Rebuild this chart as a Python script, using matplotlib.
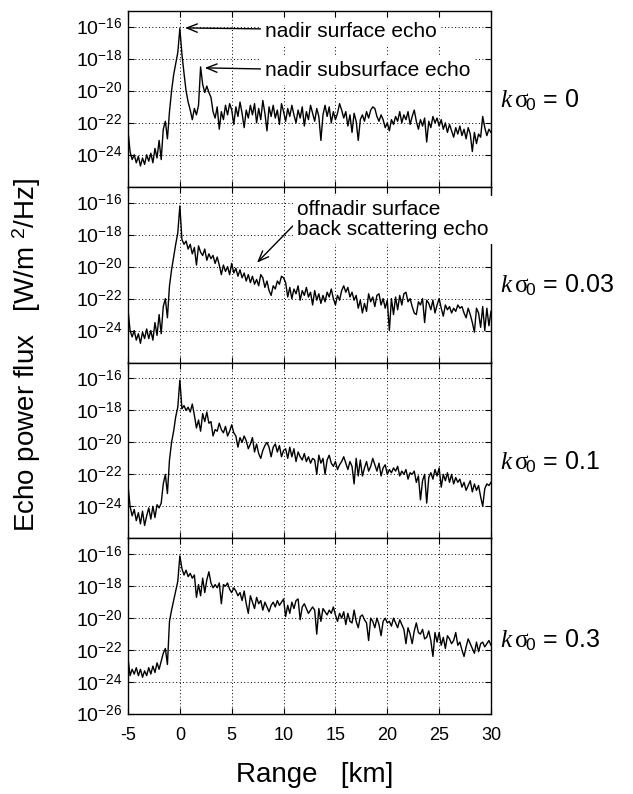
import numpy as np
import matplotlib
matplotlib.use("Agg")
import matplotlib.pyplot as plt
from matplotlib.ticker import NullLocator

plt.rcParams['font.family'] = ['Liberation Sans', 'DejaVu Sans']
plt.rcParams['mathtext.fontset'] = 'custom'
plt.rcParams['mathtext.rm'] = 'Liberation Sans'
plt.rcParams['mathtext.it'] = 'Liberation Serif:italic'
plt.rcParams['mathtext.sf'] = 'Liberation Serif'
plt.rcParams['axes.unicode_minus'] = False

# range axis, 0.2 km sampling from -5 to 30 km
range_km = np.linspace(-5, 30, 176)

# echo power flux as log10 [W/m^2/Hz], one series per surface roughness
logflux_k0 = [
    -22.5, -23.8, -24.3, -24.0, -24.5, -24.1, -24.7, -24.2, -24.6, -24.0,
    -24.4, -23.9, -24.5, -23.6, -24.2, -23.1, -24.3, -22.4, -21.9, -23.0,
    -21.3, -20.0, -19.0, -18.3, -17.6, -16.1, -17.7, -18.9, -20.0, -20.7,
    -21.2, -21.8, -21.1, -21.5, -20.9, -18.5, -19.6, -20.1, -19.7, -20.1,
    -20.4, -21.3, -21.7, -21.0, -22.4, -21.3, -21.8, -20.9, -21.5, -20.8,
    -21.2, -22.1, -21.0, -21.6, -20.7, -21.4, -22.3, -21.2, -21.7, -20.9,
    -21.5, -20.8, -22.0, -21.1, -21.8, -20.6, -21.4, -22.5, -21.0, -21.6,
    -20.9, -21.7, -21.2, -22.1, -20.8, -21.3, -21.9, -21.1, -21.6, -20.9,
    -21.5, -22.0, -21.2, -21.7, -21.0, -22.2, -21.3, -21.8, -20.9, -21.4,
    -21.9, -21.1, -21.6, -23.1, -21.5, -20.9, -21.6, -21.0, -22.0, -21.3,
    -21.8, -21.4, -20.8, -21.2, -21.7, -21.3, -22.2, -21.5, -22.6, -21.4,
    -21.9, -23.1, -21.8, -21.5, -21.9, -21.3, -21.7, -21.2, -21.0, -21.1,
    -21.6, -21.9, -21.5, -21.8, -22.3, -22.0, -22.5, -21.8, -22.1, -21.6,
    -21.9, -21.3, -22.0, -21.5, -21.8, -21.3, -22.1, -21.6, -21.2, -21.9,
    -22.4, -21.8, -22.2, -21.7, -23.2, -21.9, -22.3, -21.6, -22.0, -21.7,
    -22.2, -21.8, -22.4, -22.0, -22.6, -22.1, -22.5, -22.9, -22.3, -22.7,
    -22.2, -22.8, -22.4, -23.0, -22.3, -22.7, -23.8, -22.6, -23.3, -22.7,
    -22.9, -21.6, -22.3, -22.8, -22.4, -22.6,
]
logflux_k003 = [
    -22.7, -24.0, -24.4, -24.0, -24.6, -24.2, -24.8, -24.1, -24.5, -23.9,
    -24.5, -24.0, -24.6, -23.5, -24.3, -23.0, -24.2, -22.5, -22.0, -23.2,
    -21.2, -20.2, -19.4, -18.6, -17.9, -16.2, -18.3, -18.6, -18.4, -18.9,
    -18.6, -19.2, -18.8, -19.9, -18.7, -19.1, -19.3, -18.9, -19.6, -19.2,
    -19.5, -19.3, -19.8, -19.4, -19.9, -20.5, -19.9, -20.3, -20.0, -20.5,
    -19.8, -20.4, -20.1, -20.6, -20.2, -20.7, -20.4, -20.9, -20.5, -21.0,
    -20.6, -21.1, -20.8, -21.2, -20.5, -20.7, -21.3, -20.9, -21.5, -21.8,
    -21.2, -21.4, -20.9, -21.1, -20.6, -20.7, -21.0, -21.9, -21.3, -22.0,
    -21.4, -21.7, -21.2, -22.1, -21.5, -21.8, -21.3, -21.9, -21.6, -22.4,
    -21.5, -22.1, -21.7, -22.3, -21.8, -22.2, -21.6, -21.9, -21.4, -22.0,
    -22.4, -21.8, -22.1, -21.5, -21.2, -21.6, -21.3, -21.9, -21.6, -22.1,
    -21.8, -22.6, -22.1, -22.9, -22.3, -22.8, -21.7, -22.2, -21.9, -22.5,
    -21.8, -21.7, -22.4, -22.0, -22.6, -22.1, -24.0, -22.0, -23.0, -21.9,
    -22.7, -21.8, -22.4, -21.7, -21.6, -22.2, -22.0, -22.5, -22.9, -23.0,
    -22.2, -22.4, -22.0, -23.5, -22.1, -22.3, -22.7, -22.1, -22.9, -22.4,
    -22.0, -22.6, -23.1, -22.4, -22.7, -22.5, -22.9, -22.6, -22.8, -22.4,
    -22.6, -22.5, -22.9, -23.2, -22.6, -23.0, -23.5, -24.1, -22.6, -22.9,
    -23.8, -22.5, -24.0, -22.6, -23.7, -22.8,
]
logflux_k01 = [
    -22.7, -24.0, -24.6, -24.2, -24.9, -24.4, -25.1, -24.3, -25.2, -24.6,
    -24.1, -24.8, -24.0, -24.7, -23.9, -24.1, -23.8, -22.6, -22.0, -23.2,
    -21.1, -20.0, -19.3, -18.4, -17.8, -16.1, -17.9, -17.7, -18.0, -17.8,
    -18.1, -17.6, -18.3, -19.1, -18.6, -19.3, -18.2, -18.7, -18.1, -18.8,
    -18.7, -19.6, -19.2, -19.3, -18.8, -19.2, -19.4, -19.0, -19.6, -19.3,
    -18.9, -19.4, -19.6, -20.3, -19.7, -20.0, -19.6, -19.9, -20.4, -20.1,
    -19.7, -20.6, -20.1, -20.7, -21.0, -20.5, -20.2, -20.0, -20.3, -20.9,
    -20.3, -20.1, -20.6, -20.2, -20.9, -20.5, -20.4, -21.0, -20.3, -20.9,
    -20.4, -21.2, -20.6, -20.9, -21.1, -20.7, -21.2, -20.9, -21.3, -21.0,
    -21.1, -22.0, -20.8, -21.3, -21.0, -22.0, -21.1, -20.8, -21.3, -21.5,
    -21.2, -21.7, -21.4, -21.2, -20.9, -21.3, -21.7, -21.2, -21.5, -22.6,
    -21.0, -22.1, -21.1, -22.1, -21.6, -21.2, -21.8, -21.5, -21.0, -21.4,
    -21.8, -21.3, -22.1, -21.6, -21.4, -22.0, -21.7, -21.9, -21.6, -21.8,
    -21.5, -22.1, -21.8, -22.0, -21.7, -22.3, -21.9, -22.0, -21.8, -22.5,
    -22.1, -23.6, -22.4, -22.0, -23.8, -22.2, -21.9, -22.3, -21.7, -22.1,
    -21.6, -22.8, -22.0, -22.4, -21.9, -22.5, -22.0, -22.6, -22.2, -22.5,
    -22.3, -22.8, -22.5, -23.0, -22.7, -22.4, -23.1, -22.6, -23.0, -22.7,
    -23.4, -24.0, -22.9, -22.6, -22.7, -22.5,
]
logflux_k03 = [
    -22.5, -23.6, -23.2, -23.5, -23.1, -23.6, -23.2, -23.7, -23.3, -23.6,
    -23.1, -23.5, -23.0, -23.4, -22.8, -23.2, -22.7, -22.2, -21.9, -22.9,
    -20.2, -19.5, -18.9, -18.3, -17.7, -16.1, -16.9, -17.3, -17.0, -17.4,
    -17.2, -17.5, -17.3, -18.7, -17.9, -18.6, -17.5, -18.4, -17.6, -17.1,
    -17.8, -18.1, -17.9, -18.1, -17.8, -19.1, -17.9, -18.0, -17.8, -18.2,
    -18.4, -18.1, -18.3, -18.6, -18.4, -18.9, -18.3, -19.1, -19.7, -18.6,
    -19.0, -19.4, -18.7, -19.1, -18.9, -19.5, -19.0, -19.3, -19.6, -19.2,
    -19.0, -19.3, -18.9, -19.2, -19.0, -18.8, -19.9, -19.2, -19.7, -19.0,
    -19.4, -18.9, -18.8, -20.1, -19.3, -19.1, -19.4, -19.7, -19.5, -19.3,
    -19.5, -21.0, -19.4, -20.2, -19.4, -19.6, -19.8, -19.5, -19.7, -19.3,
    -19.8, -20.2, -19.7, -20.0, -19.6, -20.4, -19.7, -20.2, -20.3, -19.5,
    -20.2, -20.6, -19.9, -19.8, -20.1, -20.3, -21.4, -20.0, -20.2, -20.6,
    -20.0, -20.4, -21.1, -20.2, -20.0, -20.3, -20.2, -20.5, -20.0, -20.3,
    -20.6, -20.1, -20.4, -20.7, -21.6, -20.6, -21.0, -21.6, -20.8, -20.3,
    -20.9, -21.0, -20.7, -21.3, -21.2, -20.8, -21.4, -22.4, -20.9, -21.5,
    -20.9, -21.7, -21.2, -21.9, -21.1, -21.3, -21.6, -21.4, -20.9, -21.7,
    -21.5, -22.0, -22.4, -21.8, -21.3, -21.6, -21.9, -22.2, -21.5, -22.1,
    -21.6, -21.5, -21.8, -21.6, -21.4, -21.7,
]

series = [logflux_k0, logflux_k003, logflux_k01, logflux_k03]
roughness_labels = ['0', '0.03', '0.1', '0.3']
ytick_exps = [-16, -18, -20, -22, -24, -26]
xticks = [-5, 0, 5, 10, 15, 20, 25, 30]

fig = plt.figure(figsize=(6.33, 7.94), dpi=100)

left, width = 128 / 633, 363 / 633
top, panel_h = 1 - 11 / 794, 175.75 / 794
label_y = [0.49, 0.44, 0.435, 0.42]

axes = []
for i, vals in enumerate(series):
    ax = fig.add_axes([left, top - (i + 1) * panel_h, width, panel_h])
    ax.plot(range_km, 10.0 ** np.array(vals), color='k', lw=1.0)
    ax.set_yscale('log')
    ax.set_xlim(-5, 30)
    ax.set_ylim(1e-26, 1e-15)
    ax.yaxis.set_minor_locator(NullLocator())
    ax.set_xticks(xticks)
    exps = ytick_exps if i == len(series) - 1 else ytick_exps[:-1]
    ax.set_yticks([10.0 ** e for e in exps])
    ax.set_yticklabels([r'$10^{\mathrm{%d}}$' % e for e in exps])
    ax.grid(True, color='k', linestyle=(0, (1, 2.5)), lw=0.7)
    ax.tick_params(direction='in', top=True, right=True, length=4, width=0.8)
    ax.tick_params(axis='y', pad=4, labelsize=14)
    ax.tick_params(axis='x', pad=9, labelsize=13,
                   labelbottom=(i == len(series) - 1))
    for sp in ax.spines.values():
        sp.set_linewidth(1.0)
    ax.text(1.025, label_y[i],
            r'$\mathit{k}\,\mathsf{\sigma}_{\!\mathrm{0}}$ = ' + roughness_labels[i],
            transform=ax.transAxes, fontsize=18, ha='left', va='center')
    axes.append(ax)

arrow = dict(arrowstyle='->,head_length=0.5,head_width=0.2', color='k',
             lw=1.0, shrinkA=0, shrinkB=0)
box = dict(fc='white', ec='none', pad=3)

axes[0].annotate('nadir surface echo', xy=(0.5, 10 ** -16.06),
                 xytext=(8.2, 10 ** -16.3), fontsize=15, ha='left', va='center',
                 bbox=box, arrowprops=dict(arrow, relpos=(0, 0.65)))
axes[0].annotate('nadir subsurface echo', xy=(2.4, 10 ** -18.56),
                 xytext=(8.2, 10 ** -18.75), fontsize=15, ha='left', va='center',
                 bbox=box, arrowprops=dict(arrow, relpos=(0, 0.6)))
axes[1].annotate('offnadir surface\nback scattering echo', xy=(7.44, 10 ** -19.75),
                 xytext=(11.3, 10 ** -17.06), fontsize=15, ha='left', va='center',
                 linespacing=1.1, bbox=box, arrowprops=dict(arrow, relpos=(0, 0.45)))

fig.text(27 / 633, 1 - 355 / 794, r'Echo power flux   [W/m $^{2}$/Hz]',
         rotation=90, fontsize=20, ha='center', va='center')
fig.text(315 / 633, 1 - 775 / 794, 'Range   [km]', fontsize=20,
         ha='center', va='center')

fig.savefig('out.png', dpi=100)
